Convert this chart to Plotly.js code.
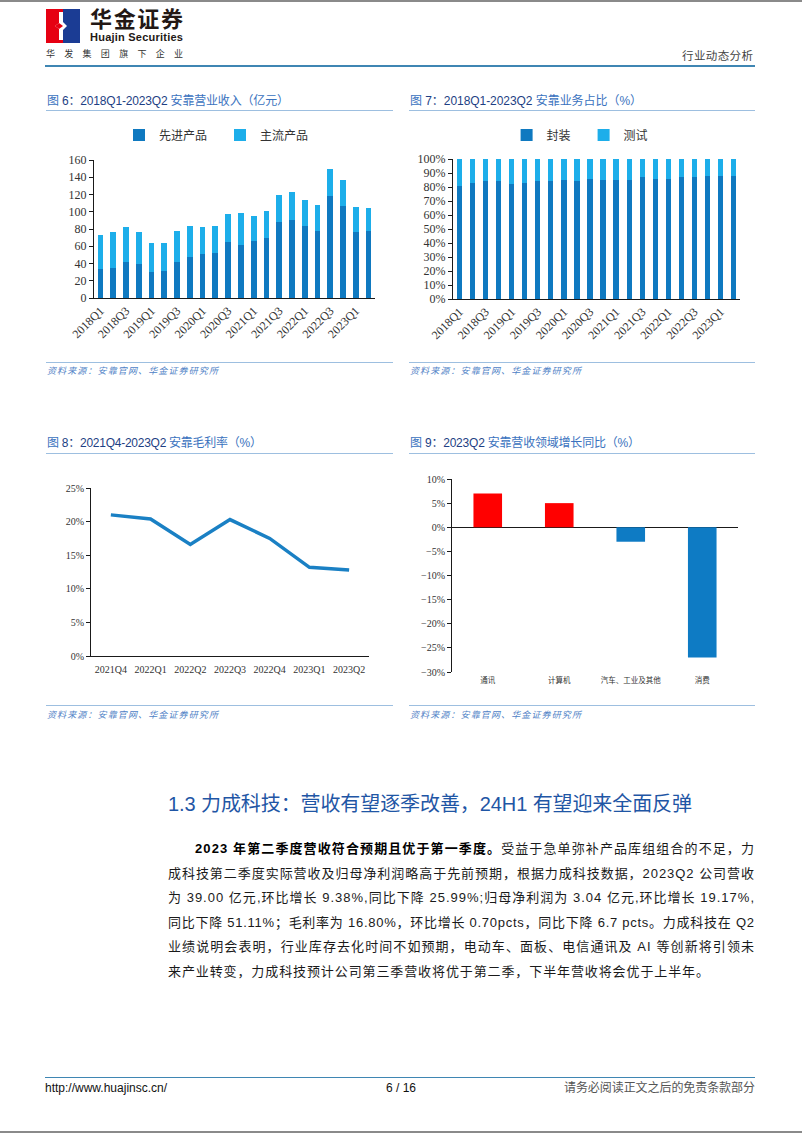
<!DOCTYPE html>
<html><head><meta charset="utf-8">
<script src="https://cdn.plot.ly/plotly-3.0.1.min.js"></script>
<style>
html,body{margin:0;padding:0;}
body{width:802px;height:1133px;position:relative;background:#fff;overflow:hidden;font-family:"Liberation Sans","Noto Sans CJK SC",sans-serif;}
.abs{position:absolute;white-space:nowrap;line-height:1;}
.hline{position:absolute;height:0;}
.ftitle{font-size:12px;color:#3A72BE;}
.ftitle .n{color:#1E3F84;}
.src{font-size:9px;color:#4F82C6;font-style:italic;}
.chart{position:absolute;}
.pline{position:absolute;left:168px;font-size:13px;color:#1a1a1a;white-space:nowrap;line-height:1;}
</style></head>
<body>
<!-- page edges -->
<div class="hline" style="left:0;top:0;width:802px;border-top:2px solid #8a8a8a;"></div>
<div class="hline" style="left:0;top:1131px;width:802px;border-top:2px solid #8a8a8a;"></div>

<!-- logo -->
<svg class="abs" style="left:46px;top:9px;" width="34" height="34" viewBox="0 0 34 34">
  <rect x="0" y="0" width="17" height="34" fill="#E60012"/>
  <rect x="17" y="0" width="17" height="34" fill="#1B3C94"/>
  <polygon points="13,3 17,3 17,13 21,17 17,21 17,31 13,31 13,20 9,17 13,14" fill="#fff"/>
  <polygon points="13,14 9,17 13,20 17,17" fill="#E60012"/>
</svg>
<div class="abs" id="logoCn" style="left:90px;top:9px;font-size:22px;font-weight:bold;color:#231815;">华金证券</div>
<div class="abs" id="logoEn" style="left:90px;top:32px;font-size:11px;font-weight:bold;color:#231815;">Huajin Securities</div>
<div class="abs" id="logoSub" style="left:46px;top:50px;font-size:9px;color:#333;">华发集团旗下企业</div>
<div class="abs" id="hdrR" style="left:682px;top:51px;font-size:11.5px;color:#444;">行业动态分析</div>
<div class="hline" style="left:45px;top:65px;width:710px;border-top:2px solid #3F86B3;"></div>

<!-- figure titles -->
<div class="abs ftitle" id="t6" style="left:47px;top:95px;">图 <span class="n">6：2018Q1-2023Q2</span> 安靠营业收入（亿元）</div>
<div class="hline" style="left:46px;top:110px;width:347px;border-top:1px solid #9DBFE0;"></div>
<div class="abs ftitle" id="t7" style="left:410px;top:95px;">图 <span class="n">7：2018Q1-2023Q2</span> 安靠业务占比（%）</div>
<div class="hline" style="left:409px;top:110px;width:346px;border-top:1px solid #9DBFE0;"></div>

<div class="hline" style="left:46px;top:362px;width:347px;border-top:1px solid #9DBFE0;"></div>
<div class="abs src" id="s6" style="left:47px;top:367px;">资料来源：安靠官网、华金证券研究所</div>
<div class="hline" style="left:409px;top:362px;width:346px;border-top:1px solid #9DBFE0;"></div>
<div class="abs src" id="s7" style="left:410px;top:367px;">资料来源：安靠官网、华金证券研究所</div>

<div class="abs ftitle" id="t8" style="left:47px;top:437px;">图 <span class="n">8：2021Q4-2023Q2</span> 安靠毛利率（%）</div>
<div class="hline" style="left:46px;top:453px;width:347px;border-top:1px solid #9DBFE0;"></div>
<div class="abs ftitle" id="t9" style="left:410px;top:437px;">图 <span class="n">9：2023Q2</span> 安靠营收领域增长同比（%）</div>
<div class="hline" style="left:409px;top:453px;width:346px;border-top:1px solid #9DBFE0;"></div>

<div class="hline" style="left:46px;top:705px;width:347px;border-top:1px solid #9DBFE0;"></div>
<div class="abs src" id="s8" style="left:47px;top:711px;">资料来源：安靠官网、华金证券研究所</div>
<div class="hline" style="left:409px;top:705px;width:346px;border-top:1px solid #9DBFE0;"></div>
<div class="abs src" id="s9" style="left:410px;top:711px;">资料来源：安靠官网、华金证券研究所</div>

<!-- charts -->
<div class="chart" id="c6" style="left:40px;top:120px;width:360px;height:240px;"></div>
<div class="chart" id="c7" style="left:400px;top:120px;width:360px;height:240px;"></div>
<div class="chart" id="c8" style="left:40px;top:460px;width:360px;height:240px;"></div>
<div class="chart" id="c9" style="left:400px;top:460px;width:360px;height:240px;"></div>

<!-- section heading and body -->
<div class="abs" id="h13" style="left:168px;top:794px;font-size:20px;color:#1F56A5;">1.3 力成科技：营收有望逐季改善，24H1 有望迎来全面反弹</div>
<div class="pline j" style="left:195px;top:842px;" data-w="559"><b style="color:#000">2023 年第二季度营收符合预期且优于第一季度。</b>受益于急单弥补产品库组组合的不足，力</div>
<div class="pline j" style="top:866.5px;" data-w="586">成科技第二季度实际营收及归母净利润略高于先前预期，根据力成科技数据，2023Q2 公司营收</div>
<div class="pline j" style="top:891px;" data-w="586">为 39.00 亿元,环比增长 9.38%,同比下降 25.99%;归母净利润为 3.04 亿元,环比增长 19.17%,</div>
<div class="pline j" style="top:915.5px;" data-w="586">同比下降 51.11%；毛利率为 16.80%，环比增长 0.70pcts，同比下降 6.7 pcts。力成科技在 Q2</div>
<div class="pline j" style="top:940px;" data-w="586">业绩说明会表明，行业库存去化时间不如预期，电动车、面板、电信通讯及 AI 等创新将引领未</div>
<div class="pline" id="lastLine" style="top:964.5px;">来产业转变，力成科技预计公司第三季营收将优于第二季，下半年营收将会优于上半年。</div>

<!-- footer -->
<div class="hline" style="left:45px;top:1077px;width:710px;border-top:1.5px solid #3F86B3;"></div>
<div class="abs" style="left:45px;top:1082px;font-size:12px;color:#111;">http://www.huajinsc.cn/</div>
<div class="abs" style="left:386px;top:1082px;font-size:12px;color:#111;">6 / 16</div>
<div class="abs" id="ftR" style="left:564px;top:1082px;font-size:12px;color:#555;">请务必阅读正文之后的免责条款部分</div>

<script>
// ---------- data ----------
const quarters = ['2018Q1','2018Q2','2018Q3','2018Q4','2019Q1','2019Q2','2019Q3','2019Q4','2020Q1','2020Q2','2020Q3','2020Q4','2021Q1','2021Q2','2021Q3','2021Q4','2022Q1','2022Q2','2022Q3','2022Q4','2023Q1','2023Q2'];
const quarterTicks = ['2018Q1','2018Q3','2019Q1','2019Q3','2020Q1','2020Q3','2021Q1','2021Q3','2022Q1','2022Q3','2023Q1'];
const advancedRev = [34,35,42,40,30,31,42,48,51,52,65,62,66,70,88,91,83,78,118,107,77,78];
const mainstreamRev = [39,41,40,37,34,33,36,36,31,32,32,36,29,31,32,32,31,30,31,30,28,26];
const packagingShare = [81,83,84,84,82,83,84,84,85,84,86,85,85,85,87,86,86,87,87,88,88,88];
const testingShare = [19,17,16,16,18,17,16,16,15,16,14,15,15,15,13,14,14,13,13,12,12,12];
const gmQuarters = ['2021Q4','2022Q1','2022Q2','2022Q3','2022Q4','2023Q1','2023Q2'];
const grossMargin = [21.0,20.4,16.6,20.3,17.5,13.2,12.8];
const segments = ['通讯','计算机','汽车、工业及其他','消费'];
const segmentYoY = [7,5,-3,-27];

// ---------- styles ----------
const DARK = '#0F79C0', LIGHT = '#1DAEEA';
const serif = 'Liberation Serif, Times New Roman, Noto Sans CJK SC, serif';
const cjk = 'Noto Sans CJK SC, Liberation Sans, sans-serif';
const cfg = {staticPlot:true, displayModeBar:false};
function yax(extra){return Object.assign({showline:true,linecolor:'#1a1a1a',linewidth:1,ticks:'outside',ticklen:4,tickcolor:'#1a1a1a',showgrid:false,zeroline:false,fixedrange:true,automargin:false,tickfont:{family:serif,size:12,color:'#333'}},extra);}
function legendAt(cx){return {orientation:'h', xref:'container', yref:'container', x:cx, xanchor:'center', y:1-15/240, yanchor:'middle', traceorder:'normal', font:{family:cjk,size:12,color:'#333'}, itemwidth:30, entrywidth:56, entrywidthmode:'pixels'};}

// Chart 6
Plotly.newPlot('c6', [
  {type:'bar', name:'先进产品', x:quarters, y:advancedRev, marker:{color:DARK}},
  {type:'bar', name:'主流产品', x:quarters, y:mainstreamRev, marker:{color:LIGHT}}
], {
  width:360, height:240, autosize:false, barmode:'stack', bargap:0.55,
  margin:{l:54, r:25, t:40, b:62, pad:0},
  paper_bgcolor:'rgba(0,0,0,0)', plot_bgcolor:'rgba(0,0,0,0)',
  showlegend:true, legend:legendAt(0.5),
  xaxis:{type:'category', range:[-0.5,21.5], showline:true, linecolor:'#1a1a1a', ticks:'', tickvals:quarterTicks, ticktext:quarterTicks, tickangle:-45, tickfont:{family:serif,size:12,color:'#333'}, showgrid:false, automargin:false},
  yaxis:yax({range:[0,160], dtick:20})
}, cfg);

// Chart 7
Plotly.newPlot('c7', [
  {type:'bar', name:'封装', x:quarters, y:packagingShare, marker:{color:DARK}},
  {type:'bar', name:'测试', x:quarters, y:testingShare, marker:{color:LIGHT}}
], {
  width:360, height:240, autosize:false, barmode:'stack', bargap:0.6,
  margin:{l:53, r:20, t:39, b:61, pad:0},
  paper_bgcolor:'rgba(0,0,0,0)', plot_bgcolor:'rgba(0,0,0,0)',
  showlegend:true, legend:Object.assign(legendAt(0.51), {entrywidth:32}),
  xaxis:{type:'category', range:[-0.5,21.5], showline:true, linecolor:'#1a1a1a', ticks:'', tickvals:quarterTicks, ticktext:quarterTicks, tickangle:-45, tickfont:{family:serif,size:12,color:'#333'}, showgrid:false, automargin:false},
  yaxis:yax({range:[0,100], dtick:10, ticksuffix:'%'})
}, cfg);

// Chart 8
Plotly.newPlot('c8', [
  {type:'scatter', mode:'lines', x:gmQuarters, y:grossMargin, line:{color:'#1A80C4', width:3.5}}
], {
  width:360, height:240, autosize:false, showlegend:false,
  margin:{l:51, r:31, t:28, b:44, pad:0},
  paper_bgcolor:'rgba(0,0,0,0)', plot_bgcolor:'rgba(0,0,0,0)',
  xaxis:{type:'category', range:[-0.5,6.5], showline:true, linecolor:'#1a1a1a', ticks:'', tickfont:{family:serif,size:10,color:'#333'}, showgrid:false, automargin:false, ticklabelstandoff:4},
  yaxis:yax({range:[0,25], dtick:5, ticksuffix:'%', tickfont:{family:serif,size:10,color:'#333'}})
}, cfg);

// Chart 9
Plotly.newPlot('c9', [
  {type:'bar', x:segments, y:segmentYoY, marker:{color:segmentYoY.map(v => v >= 0 ? '#FF0000' : '#0E7BC4')}}
], {
  width:360, height:240, autosize:false, showlegend:false, bargap:0.6,
  margin:{l:52, r:22, t:19, b:28, pad:0},
  paper_bgcolor:'rgba(0,0,0,0)', plot_bgcolor:'rgba(0,0,0,0)',
  xaxis:{type:'category', range:[-0.5,3.5], showline:false, ticks:'', tickfont:{family:cjk,size:7.5,color:'#333'}, showgrid:false, automargin:false, ticklabelstandoff:2},
  yaxis:yax({range:[-30,10], dtick:5, ticksuffix:'%', zeroline:true, zerolinecolor:'#1a1a1a', zerolinewidth:1, tickfont:{family:serif,size:10,color:'#333'}})
}, cfg);

// ---------- text fitting ----------
function fit(el, target){
  el.style.letterSpacing = '0px';
  const w = el.getBoundingClientRect().width;
  const n = el.textContent.length;
  if (n > 1) el.style.letterSpacing = ((target - w) / (n - 1)) + 'px';
  return (target - w) / (n - 1);
}
function run(){
  fit(document.getElementById('logoCn'), 93);
  fit(document.getElementById('logoEn'), 93);
  fit(document.getElementById('logoSub'), 137);
  fit(document.getElementById('hdrR'), 71);
  fit(document.getElementById('t6'), 242);
  fit(document.getElementById('t7'), 232);
  fit(document.getElementById('t8'), 215);
  fit(document.getElementById('t9'), 230);
  ['s6','s7','s8','s9'].forEach(id => fit(document.getElementById(id), 171));
  fit(document.getElementById('h13'), 524);
  fit(document.getElementById('ftR'), 191);
  let sum = 0, cnt = 0;
  document.querySelectorAll('.pline.j').forEach(el => { sum += fit(el, +el.dataset.w); cnt++; });
  const last = document.getElementById('lastLine');
  last.style.letterSpacing = '0px';
  fit(last, 541);
}
if (document.fonts && document.fonts.ready) document.fonts.ready.then(run); else run();
run();
</script>
</body></html>
